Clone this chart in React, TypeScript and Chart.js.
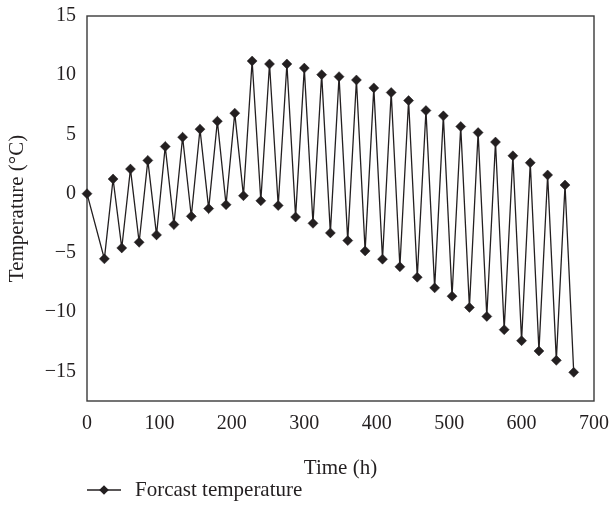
import React, { useEffect, useRef } from 'react';
import { Chart, registerables } from 'chart.js';

Chart.register(...registerables);

// Time (h)
const times = [
  0, 24, 36, 48, 60, 72, 84, 96, 108, 120, 132, 144, 156, 168, 180, 192, 204, 216,
  228, 240, 252, 264, 276, 288, 300, 312, 324, 336, 348, 360, 372, 384, 396, 408,
  420, 432, 444, 456, 468, 480, 492, 504, 516, 528, 540, 552, 564, 576, 588, 600,
  612, 624, 636, 648, 660, 672,
];
// Forecast temperature (°C)
const temps = [
  0, -5.5, 1.24, -4.58, 2.08, -4.1, 2.81, -3.48, 3.98, -2.61, 4.77, -1.91, 5.45, -1.26,
  6.12, -0.93, 6.8, -0.17, 11.2, -0.6, 10.95, -1.0, 10.95, -1.97, 10.6, -2.5, 10.05,
  -3.31, 9.88, -3.96, 9.6, -4.83, 8.93, -5.53, 8.54, -6.17, 7.86, -7.05, 7.02, -7.95,
  6.57, -8.65, 5.67, -9.6, 5.16, -10.36, 4.36, -11.48, 3.2, -12.41, 2.61, -13.28, 1.58,
  -14.07, 0.73, -15.08,
];
const xTicks = [0, 100, 200, 300, 400, 500, 600, 700];
const yTicks = [-15, -10, -5, 0, 5, 10, 15];
const seriesLabel = 'Forcast temperature';
const xTitle = 'Time (h)';
const yTitle = 'Temperature (°C)';

const FONT_FAMILY = "'Liberation Serif', 'DejaVu Serif', serif";
const INK = '#231f20';

function fmt(v: number): string {
  return v < 0 ? '\u2212' + Math.abs(v) : String(v);
}

export default function App() {
  const ref = useRef<HTMLCanvasElement>(null);

  useEffect(() => {
    if (!ref.current) return;
    const tickFont = { family: FONT_FAMILY, size: 20 };
    const titleFont = { family: FONT_FAMILY, size: 21 };

    const boxPlugin = {
      id: 'boxPlugin',
      beforeDatasetsDraw(chart: any) {
        const { ctx, chartArea } = chart;
        ctx.save();
        ctx.strokeStyle = '#3a3a3a';
        ctx.lineWidth = 1.4;
        ctx.strokeRect(chartArea.left, chartArea.top, chartArea.right - chartArea.left, chartArea.bottom - chartArea.top);
        ctx.restore();
      },
    };

    const legendPlugin = {
      id: 'legendPlugin',
      afterDraw(chart: any) {
        const { ctx } = chart;
        const y = 490;
        ctx.save();
        ctx.strokeStyle = INK;
        ctx.lineWidth = 1.3;
        ctx.beginPath();
        ctx.moveTo(87, y);
        ctx.lineTo(121, y);
        ctx.stroke();
        ctx.fillStyle = INK;
        ctx.beginPath();
        ctx.moveTo(104, y - 4.8);
        ctx.lineTo(108.8, y);
        ctx.lineTo(104, y + 4.8);
        ctx.lineTo(99.2, y);
        ctx.closePath();
        ctx.fill();
        ctx.font = `21px ${FONT_FAMILY}`;
        ctx.textBaseline = 'middle';
        ctx.textAlign = 'left';
        ctx.fillText(seriesLabel, 135, y);
        ctx.restore();
      },
    };

    const chart = new Chart(ref.current, {
      type: 'line',
      data: {
        datasets: [
          {
            label: seriesLabel,
            data: times.map((t, i) => ({ x: t, y: temps[i] })),
            borderColor: INK,
            borderWidth: 1.3,
            pointStyle: 'rectRot',
            pointRadius: 5,
            pointBackgroundColor: INK,
            pointBorderColor: INK,
            pointBorderWidth: 0.5,
            tension: 0,
            clip: false,
          } as any,
        ],
      },
      options: {
        animation: false,
        responsive: false,
        maintainAspectRatio: false,
        layout: { padding: { left: 0, top: 16, right: 15, bottom: 40 } },
        plugins: {
          legend: { display: false },
          tooltip: { enabled: false },
        },
        scales: {
          x: {
            type: 'linear',
            min: 0,
            max: 700,
            grid: { display: false, drawTicks: false },
            border: { display: false },
            afterBuildTicks: (s: any) => {
              s.ticks = xTicks.map((v) => ({ value: v }));
            },
            afterFit: (s: any) => {
              s.height = 84;
              s.paddingLeft = 0;
              s.paddingRight = 0;
            },
            ticks: {
              padding: 11,
              font: tickFont,
              color: INK,
              maxRotation: 0,
              autoSkip: false,
              callback: (v: any) => fmt(Number(v)),
            },
            title: { display: true, text: xTitle, font: titleFont, color: INK, padding: { top: 4, bottom: 4 } },
          },
          y: {
            type: 'linear',
            min: -17.5,
            max: 15,
            grid: { display: false, drawTicks: false },
            border: { display: false },
            afterBuildTicks: (s: any) => {
              s.ticks = yTicks.map((v) => ({ value: v }));
            },
            afterFit: (s: any) => {
              s.width = 87;
              s.paddingTop = 0;
              s.paddingBottom = 0;
            },
            ticks: {
              padding: 11,
              font: tickFont,
              color: INK,
              autoSkip: false,
              callback: (v: any) => fmt(Number(v)),
            },
            title: { display: true, text: yTitle, font: titleFont, color: INK, padding: { top: 5, bottom: 4 } },
          },
        },
      } as any,
      plugins: [boxPlugin, legendPlugin],
    });

    return () => chart.destroy();
  }, []);

  return (
    <div style={{ position: 'absolute', left: 0, top: 0, width: 609, height: 525, background: '#fff' }}>
      <canvas ref={ref} width={609} height={525} style={{ display: 'block' }} />
    </div>
  );
}
